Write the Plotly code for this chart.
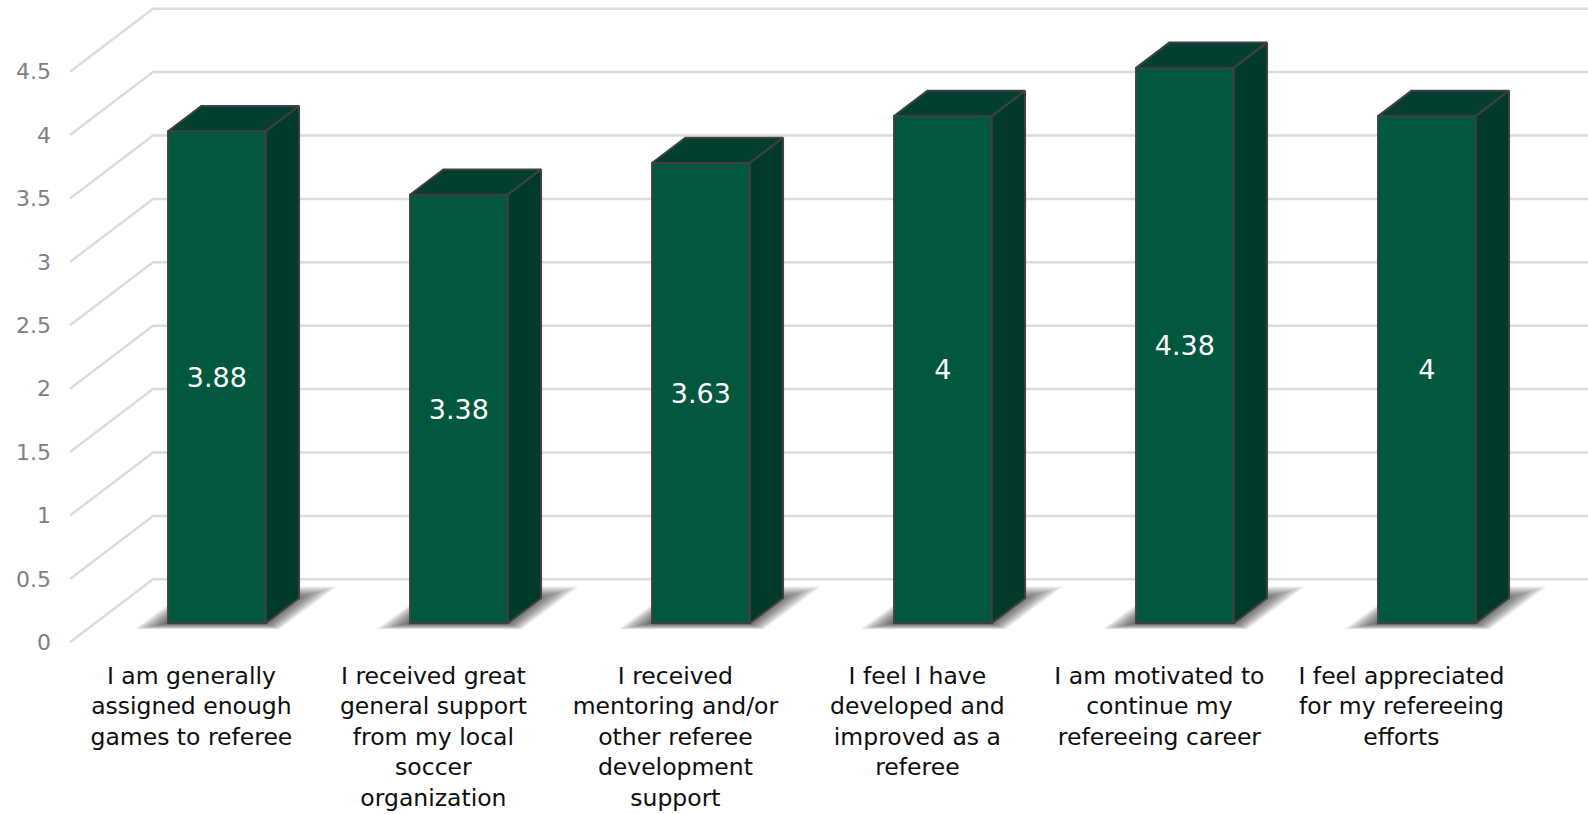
import plotly.graph_objects as go

categories = [
    "I am generally<br>assigned enough<br>games to referee",
    "I received great<br>general support<br>from my local<br>soccer<br>organization",
    "I received<br>mentoring and/or<br>other referee<br>development<br>support",
    "I feel I have<br>developed and<br>improved as a<br>referee",
    "I am motivated to<br>continue my<br>refereeing career",
    "I feel appreciated<br>for my refereeing<br>efforts",
]
values = [3.88, 3.38, 3.63, 4, 4.38, 4]
value_labels = ["3.88", "3.38", "3.63", "4", "4.38", "4"]
tick_values = [0, 0.5, 1, 1.5, 2, 2.5, 3, 3.5, 4, 4.5]
tick_labels = ["0", "0.5", "1", "1.5", "2", "2.5", "3", "3.5", "4", "4.5"]

W, H = 1588, 814
PX_X, PX_Y = 242.0, 126.8
CENTER0 = 216.9
ZERO_Y = 642.3
LEFT, BOTTOM = 52, 659
def xu(px): return (px - CENTER0) / PX_X

BAR_W = 97.7 / PX_X
BASE = 19 / PX_Y
DX, DY = 33.3 / PX_X, 25.3 / PX_Y
WALL_DX, WALL_DY = 83 / PX_X, 63 / PX_Y
AXIS_X = xu(70)
LABEL_SHIFT = -25.5 / PX_X

FRONT = "#02573F"
SIDE = "#013A2B"
TOP = "#023F30"
EDGE = "#404040"
GRID = "#DCDCDC"

shapes = []
for t in tick_values:
    path = (f"M {AXIS_X} {t} L {AXIS_X + WALL_DX} {t + WALL_DY} L {xu(W)} {t + WALL_DY}")
    shapes.append(dict(type="path", path=path, xref="x", yref="y", layer="below",
                       line=dict(color=GRID, width=2.5)))

# soft floor shadow, stacked translucent layers
LAYERS = 24
for i, _ in enumerate(values):
    xl, xr = i - BAR_W / 2, i + BAR_W / 2
    for k in range(LAYERS):
        s = k / (LAYERS - 1)
        reach_l = (34 - 34 * s) / PX_X
        reach_r = (72 - 44 * s) / PX_X
        bot = BASE + (-6 + 6 * s) / PX_Y
        top = BASE + (37 - 13 * s) / PX_Y
        path = (f"M {xl - reach_l} {bot} L {xr + 14 * (1 - s) / PX_X} {bot} L {xr + reach_r} {top} "
                f"L {xl + 25 / PX_X} {top} Z")
        shapes.append(dict(type="path", path=path, xref="x", yref="y", layer="below",
                           fillcolor="rgba(30,30,30,0.04)", line=dict(width=0)))

fig = go.Figure()
fig.add_trace(go.Bar(
    x=list(range(len(values))), y=values, base=BASE, width=BAR_W,
    marker=dict(color=FRONT, line=dict(color=EDGE, width=2)),
    text=value_labels, textposition="inside", insidetextanchor="middle", textangle=0,
    constraintext="none",
    textfont=dict(color="white", size=27, family="DejaVu Sans"),
    hoverinfo="skip",
))
for i, v in enumerate(values):
    xl, xr = i - BAR_W / 2, i + BAR_W / 2
    y0, y1 = BASE, BASE + v
    fig.add_trace(go.Scatter(
        x=[xl, xr, xr + DX, xl + DX, xl], y=[y1, y1, y1 + DY, y1 + DY, y1],
        mode="lines", fill="toself", fillcolor=TOP, line=dict(color=EDGE, width=2),
        hoverinfo="skip"))
    fig.add_trace(go.Scatter(
        x=[xr, xr + DX, xr + DX, xr, xr], y=[y0, y0 + DY, y1 + DY, y1, y0],
        mode="lines", fill="toself", fillcolor=SIDE, line=dict(color=EDGE, width=2),
        hoverinfo="skip"))

fig.update_layout(
    width=W, height=H, autosize=False, showlegend=False,
    paper_bgcolor="white", plot_bgcolor="rgba(0,0,0,0)",
    margin=dict(l=LEFT, r=0, t=0, b=H - BOTTOM, pad=0),
    shapes=shapes,
    font=dict(family="DejaVu Sans"),
    xaxis=dict(range=[xu(LEFT), xu(W)], showgrid=False, zeroline=False, showline=False,
               tickmode="array", tickvals=[i + LABEL_SHIFT for i in range(len(categories))],
               ticktext=categories, tickangle=0, ticks="", automargin=False,
               tickfont=dict(size=23.5, color="#0D0D0D", family="DejaVu Sans")),
    yaxis=dict(range=[-(BOTTOM - ZERO_Y) / PX_Y, ZERO_Y / PX_Y], showgrid=False, zeroline=False,
               showline=False, tickmode="array", tickvals=tick_values, ticktext=tick_labels,
               ticks="", automargin=False,
               tickfont=dict(size=22, color="#7F7F7F", family="DejaVu Sans")),
)
fig.write_html("out.html", config={"displayModeBar": False},
               post_script="document.body.style.margin='0';document.documentElement.style.overflow='hidden';")
